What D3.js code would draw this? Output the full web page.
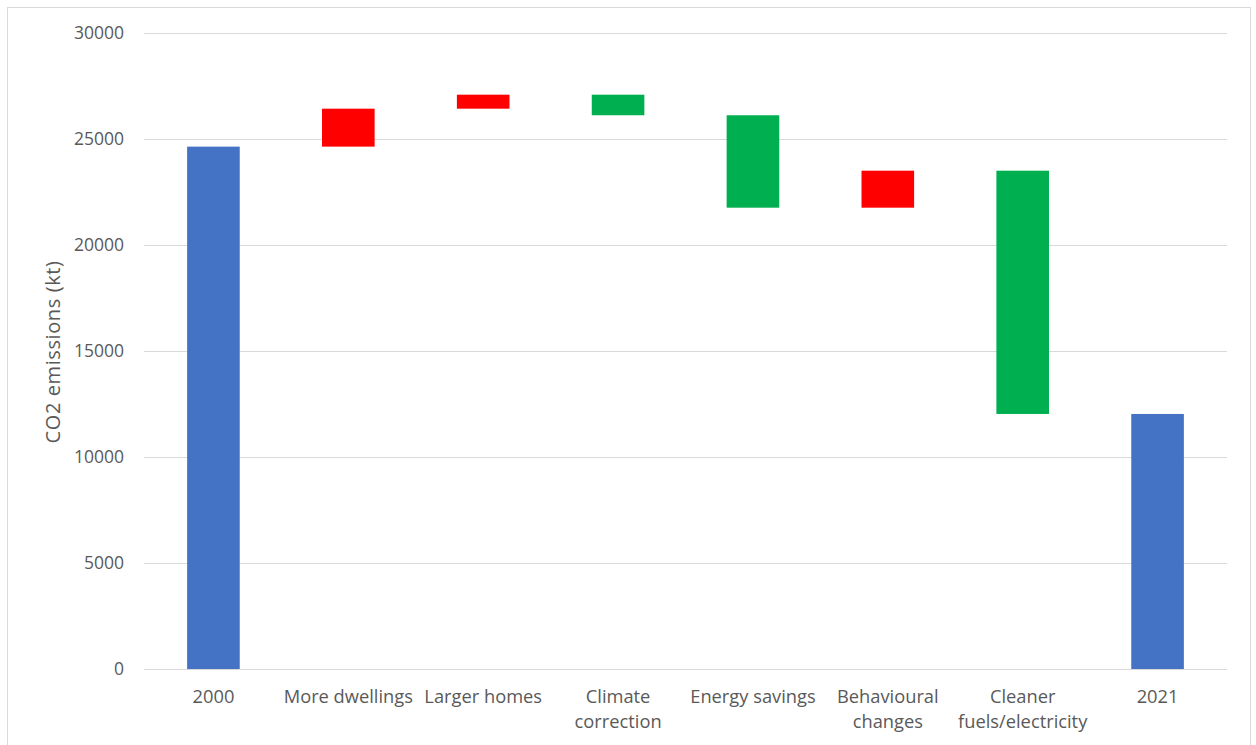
<!DOCTYPE html>
<html>
<head>
<meta charset="utf-8">
<script src="https://cdn.jsdelivr.net/npm/d3@7"></script>
<style>
  html, body { margin: 0; padding: 0; background: #fff; }
  svg { display: block; }
  text { font-family: "Open Sans", "Liberation Sans", sans-serif; fill: #595959; }
</style>
</head>
<body>
<svg id="chart" width="1256" height="745"></svg>
<script>
// Residential CO2 emissions bridge, 2000 -> 2021 (kt)
const categories = ["2000", "More dwellings", "Larger homes", "Climate correction",
  "Energy savings", "Behavioural changes", "Cleaner fuels/electricity", "2021"];
const labelLines = [["2000"], ["More dwellings"], ["Larger homes"], ["Climate", "correction"],
  ["Energy savings"], ["Behavioural", "changes"], ["Cleaner", "fuels/electricity"], ["2021"]];
const startValue = 24640;
const changes = [1790, 660, -970, -4360, 1745, -11475];
const yTicks = [0, 5000, 10000, 15000, 20000, 25000, 30000];
const axisTitle = "CO2 emissions (kt)";

const colors = { total: "#4472C4", up: "#FF0000", down: "#00B050" };

// Build the floating segments
const bars = [];
let level = startValue;
bars.push({ cat: categories[0], y0: 0, y1: startValue, kind: "total" });
changes.forEach((d, i) => {
  const next = level + d;
  bars.push({ cat: categories[i + 1], y0: Math.min(level, next), y1: Math.max(level, next), kind: d >= 0 ? "up" : "down" });
  level = next;
});
bars.push({ cat: categories[categories.length - 1], y0: 0, y1: level, kind: "total" });

const svg = d3.select("#chart");

// Chart frame
svg.append("rect").attr("x", 7.5).attr("y", 7.5).attr("width", 1243).attr("height", 745)
  .attr("fill", "#fff").attr("stroke", "#d9d9d9").attr("stroke-width", 1);

const plot = { left: 144, right: 1227, top: 33, bottom: 669 };

const x = d3.scaleBand().domain(categories).range([146, 1225]).paddingInner(0.61).paddingOuter(0.305);
const y = d3.scaleLinear().domain([0, 30000]).range([plot.bottom, plot.top]);

// Gridlines
svg.append("g").selectAll("line").data(yTicks).join("line")
  .attr("x1", plot.left).attr("x2", plot.right)
  .attr("y1", d => Math.round(y(d)) + 0.5).attr("y2", d => Math.round(y(d)) + 0.5)
  .attr("stroke", "#d9d9d9").attr("stroke-width", 1);

// Y axis labels
const yAxis = d3.axisLeft(y).tickValues(yTicks).tickSize(0).tickPadding(0).tickFormat(d3.format("d"));
const yg = svg.append("g").attr("transform", `translate(${plot.left - 20},0)`).call(yAxis);
yg.select(".domain").remove();
yg.selectAll("text").attr("font-size", 17.5).attr("fill", "#595959")
  .style("font-family", '"Open Sans", "Liberation Sans", sans-serif');

// Bars
svg.append("g").selectAll("rect").data(bars).join("rect")
  .attr("x", d => x(d.cat))
  .attr("width", x.bandwidth())
  .attr("y", d => y(d.y1))
  .attr("height", d => y(d.y0) - y(d.y1))
  .attr("fill", d => colors[d.kind]);

// Category labels
const xAxis = d3.axisBottom(x).tickSize(0).tickPadding(0).tickFormat(() => "");
const xg = svg.append("g").attr("transform", `translate(0,${plot.bottom})`).call(xAxis);
xg.select(".domain").remove();
xg.selectAll(".tick").each(function (d, i) {
  const t = d3.select(this).append("text")
    .attr("text-anchor", "middle").attr("font-size", 18.3).attr("y", 34);
  labelLines[i].forEach((line, j) => {
    t.append("tspan").attr("x", 0).attr("dy", j === 0 ? 0 : 25).text(line);
  });
});

// Axis title
svg.append("text")
  .attr("transform", `translate(60,352) rotate(-90)`)
  .attr("text-anchor", "middle").attr("font-size", 20)
  .attr("letter-spacing", 0.6)
  .text(axisTitle);
</script>
</body>
</html>
